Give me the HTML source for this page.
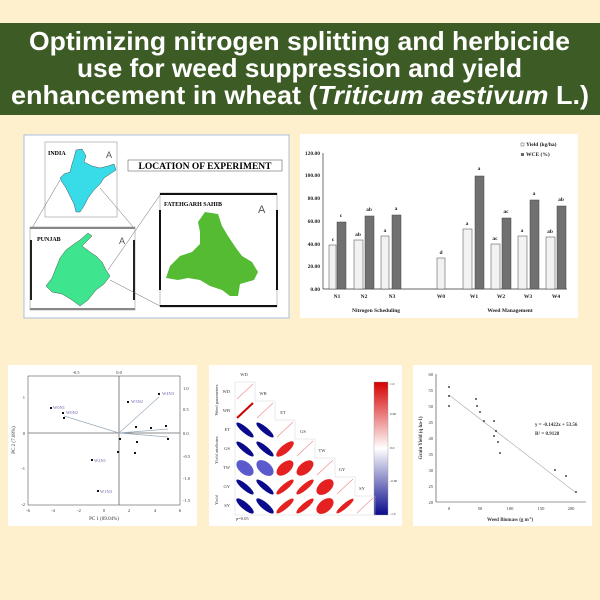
<!DOCTYPE html>
<html><head><meta charset="utf-8"><style>
html,body{margin:0;padding:0;background:#fef0cc;}
svg{display:block}
</style></head><body>
<svg width="600" height="600" viewBox="0 0 600 600" xmlns="http://www.w3.org/2000/svg" font-family="Liberation Serif, serif">
<rect width="600" height="600" fill="#fef0cc"/>
<!-- Title -->
<rect x="0" y="23" width="600" height="92" fill="#3d5b24"/>
<g font-family="Liberation Sans, sans-serif" font-weight="bold" font-size="26" fill="#fff">
<text x="29" y="50" textLength="541" lengthAdjust="spacingAndGlyphs">Optimizing nitrogen splitting and herbicide</text>
<text x="77" y="77" textLength="445" lengthAdjust="spacingAndGlyphs">use for weed suppression and yield</text>
<text x="11" y="104" textLength="578" lengthAdjust="spacingAndGlyphs">enhancement in wheat (<tspan font-style="italic">Triticum aestivum</tspan> L.)</text>
</g>

<!-- Map panel -->
<rect x="24" y="135" width="265" height="183" fill="#fff" stroke="#a8c0dc" stroke-width="1"/>
<rect x="45" y="142" width="72" height="75" fill="#fff" stroke="#999" stroke-width="0.6"/>
<text x="48" y="155" font-size="6" font-weight="bold">INDIA</text>
<text x="106" y="158" font-size="9" fill="#555" font-family="Liberation Sans,sans-serif">A</text>
<polygon points="76,150 82,149 86,156 84,162 92,166 100,168 108,166 114,164 116,170 110,174 104,178 100,184 94,190 88,198 84,206 80,212 76,212 74,204 70,196 66,188 62,182 60,178 64,174 70,172 72,164 74,158" fill="#38dbe8" stroke="#333" stroke-width="0.4"/>
<line x1="60" y1="180" x2="32" y2="228" stroke="#666" stroke-width="0.5"/>
<line x1="100" y1="188" x2="134" y2="228" stroke="#666" stroke-width="0.5"/>
<rect x="30" y="227" width="105" height="83" fill="#fff" stroke="#999" stroke-width="0.6"/>
<rect x="30" y="227" width="105" height="2" fill="#888"/>
<rect x="30" y="308" width="105" height="2" fill="#888"/>
<rect x="30" y="240" width="2" height="60" fill="#222"/>
<rect x="133" y="240" width="2" height="60" fill="#222"/>
<text x="37" y="241" font-size="6" font-weight="bold">PUNJAB</text>
<text x="119" y="244" font-size="9" fill="#555" font-family="Liberation Sans,sans-serif">A</text>
<polygon points="88,233 92,236 86,242 82,246 90,252 96,256 102,262 106,270 110,276 104,284 96,290 88,300 80,306 72,300 62,294 52,292 46,286 52,278 56,268 60,258 66,250 74,244 80,240" fill="#3fe48f" stroke="#333" stroke-width="0.4"/>
<rect x="128" y="160" width="154" height="11" fill="#fff" stroke="#666" stroke-width="0.6"/>
<text x="205" y="169" font-size="9.5" text-anchor="middle" font-weight="bold">LOCATION OF EXPERIMENT</text>
<line x1="108" y1="270" x2="160" y2="195" stroke="#666" stroke-width="0.5"/>
<line x1="110" y1="280" x2="160" y2="306" stroke="#666" stroke-width="0.5"/>
<rect x="160" y="193" width="117" height="114" fill="#fff" stroke="#999" stroke-width="0.6"/>
<rect x="160" y="193" width="117" height="2" fill="#111"/>
<rect x="160" y="305" width="117" height="2" fill="#111"/>
<rect x="159" y="210" width="2" height="80" fill="#111"/>
<rect x="276" y="210" width="2" height="80" fill="#111"/>
<text x="164" y="206" font-size="6" font-weight="bold">FATEHGARH SAHIB</text>
<text x="258" y="213" font-size="11" fill="#555" font-family="Liberation Sans,sans-serif">A</text>
<polygon points="205,212 218,214 222,226 228,236 236,248 242,256 252,262 258,272 254,280 240,284 238,296 230,296 222,290 210,286 200,280 188,278 178,280 166,278 170,266 180,256 192,252 200,244 200,232 198,222" fill="#55bb33"/>

<!-- Bar chart panel -->
<rect x="300" y="134" width="278" height="184" fill="#fff"/>
<g font-size="5.5" font-weight="bold" fill="#222">
<line x1="323" y1="153" x2="323" y2="289" stroke="#333" stroke-width="0.7"/>
<line x1="323" y1="289" x2="567" y2="289" stroke="#333" stroke-width="0.7"/>
<text x="320" y="291" text-anchor="end">0.00</text>
<text x="320" y="268" text-anchor="end">20.00</text>
<text x="320" y="246" text-anchor="end">40.00</text>
<text x="320" y="223" text-anchor="end">60.00</text>
<text x="320" y="200" text-anchor="end">80.00</text>
<text x="320" y="177" text-anchor="end">100.00</text>
<text x="320" y="155" text-anchor="end">120.00</text>
<rect x="521" y="143" width="3" height="3" fill="#fff" stroke="#333" stroke-width="0.4"/><text x="526" y="146">Yield (kg/ha)</text>
<rect x="521" y="153" width="3" height="3" fill="#666"/><text x="526" y="156">WCE (%)</text>
<g stroke="#444" stroke-width="0.5" fill="#f2f2f2">
<rect x="329" y="245" width="7" height="44"/><rect x="354" y="240" width="9" height="49"/><rect x="381" y="236" width="8" height="53"/>
<rect x="437" y="258" width="8" height="31"/><rect x="463" y="229" width="9" height="60"/><rect x="491" y="244" width="9" height="45"/>
<rect x="518" y="236" width="9" height="53"/><rect x="546" y="237" width="9" height="52"/>
</g>
<g fill="#707070" stroke="#444" stroke-width="0.5">
<rect x="337" y="222" width="9" height="67"/><rect x="365" y="216" width="9" height="73"/><rect x="392" y="215" width="9" height="74"/>
<rect x="475" y="176" width="9" height="113"/><rect x="502" y="218" width="9" height="71"/><rect x="530" y="200" width="9" height="89"/><rect x="557" y="206" width="9" height="83"/>
</g>
<g text-anchor="middle">
<text x="333" y="241">c</text><text x="341" y="217">c</text><text x="358" y="236">ab</text><text x="369" y="211">ab</text>
<text x="385" y="232">a</text><text x="396" y="210">a</text><text x="441" y="254">d</text><text x="467" y="225">a</text><text x="479" y="170">a</text>
<text x="495" y="240">ac</text><text x="506" y="213">ac</text><text x="522" y="232">a</text><text x="534" y="195">a</text><text x="550" y="233">ab</text><text x="561" y="201">ab</text>
<text x="337" y="298">N1</text><text x="364" y="298">N2</text><text x="392" y="298">N3</text><text x="441" y="298">W0</text>
<text x="474" y="298">W1</text><text x="501" y="298">W2</text><text x="528" y="298">W3</text><text x="556" y="298">W4</text>
<text x="376" y="312">Nitrogen Scheduling</text><text x="510" y="312">Weed Management</text>
</g>
</g>

<!-- PCA panel -->
<rect x="8" y="365" width="189" height="161" fill="#fff"/>
<g font-size="4.5" fill="#333">
<rect x="28" y="376" width="152" height="129" fill="none" stroke="#555" stroke-width="0.6"/>
<line x1="119" y1="376" x2="119" y2="505" stroke="#666" stroke-width="0.8"/>
<line x1="28" y1="433" x2="180" y2="433" stroke="#666" stroke-width="0.8"/>
<g stroke="#9ab" stroke-width="0.7"><line x1="119" y1="433" x2="64" y2="416"/><line x1="119" y1="433" x2="159" y2="397"/><line x1="119" y1="433" x2="168" y2="429"/><line x1="119" y1="433" x2="168" y2="437"/></g>
<g fill="#111">
<rect x="50" y="407" width="2" height="2"/><rect x="62" y="412" width="2" height="2"/><rect x="63" y="417" width="2" height="2"/><rect x="127" y="401" width="2" height="2"/><rect x="158" y="393" width="2" height="2"/><rect x="135" y="426" width="2" height="2"/><rect x="150" y="427" width="2" height="2"/><rect x="165" y="425" width="2" height="2"/><rect x="167" y="438" width="2" height="2"/><rect x="119" y="438" width="2" height="2"/><rect x="136" y="441" width="2" height="2"/><rect x="117" y="451" width="2" height="2"/><rect x="134" y="452" width="2" height="2"/><rect x="91" y="459" width="2" height="2"/><rect x="97" y="490" width="2" height="2"/>
</g>
<text x="100" y="493" fill="#66a">W1N3</text><text x="94" y="462" fill="#66a">W2N1</text><text x="53" y="409" fill="#66a">W0N1</text><text x="66" y="414" fill="#66a">W0N2</text><text x="131" y="403" fill="#66a">W3N2</text><text x="162" y="395" fill="#66a">W4N3</text>
<text x="76" y="374" text-anchor="middle">-0.5</text><text x="119" y="374" text-anchor="middle">0.0</text>
<text x="28" y="512" text-anchor="middle">-6</text><text x="53" y="512" text-anchor="middle">-4</text><text x="79" y="512" text-anchor="middle">-2</text><text x="104" y="512" text-anchor="middle">0</text><text x="129" y="512" text-anchor="middle">2</text><text x="155" y="512" text-anchor="middle">4</text><text x="180" y="512" text-anchor="middle">6</text>
<text x="25" y="399" text-anchor="end">1</text><text x="25" y="435" text-anchor="end">0</text><text x="25" y="470" text-anchor="end">-1</text><text x="25" y="506" text-anchor="end">-2</text>
<text x="183" y="390">1.0</text><text x="183" y="411">0.5</text><text x="183" y="435">0.0</text><text x="183" y="458">-0.5</text><text x="183" y="480">-1.0</text><text x="183" y="502">-1.5</text>
<text x="104" y="520" text-anchor="middle" font-size="5">PC 1 (89.04%)</text>
<text transform="translate(15,440) rotate(-90)" text-anchor="middle" font-size="5">PC 2 (7.08%)</text>
</g>

<!-- Correlation panel -->
<rect x="209" y="365" width="193" height="161" fill="#fff"/>
<defs>
<linearGradient id="cb" x1="0" y1="0" x2="0" y2="1"><stop offset="0" stop-color="#d40000"/><stop offset="0.5" stop-color="#fff"/><stop offset="1" stop-color="#0a0a8c"/></linearGradient>
</defs>
<rect x="374" y="382" width="14" height="133" fill="url(#cb)" stroke="#999" stroke-width="0.4"/>
<g font-size="4.5" fill="#333">
<text x="244" y="376" text-anchor="middle">WD</text><text x="263" y="395" text-anchor="middle">WB</text><text x="283" y="414" text-anchor="middle">ET</text><text x="303" y="433" text-anchor="middle">GS</text><text x="322" y="452" text-anchor="middle">TW</text><text x="342" y="471" text-anchor="middle">GY</text><text x="362" y="490" text-anchor="middle">SY</text>
<text x="230" y="393" text-anchor="end">WD</text><text x="230" y="412" text-anchor="end">WB</text><text x="230" y="431" text-anchor="end">ET</text><text x="230" y="450" text-anchor="end">GS</text><text x="230" y="469" text-anchor="end">TW</text><text x="230" y="488" text-anchor="end">GY</text><text x="230" y="507" text-anchor="end">SY</text>
<text x="236" y="520">p=0.05</text>
<text transform="translate(218,400) rotate(-90)" text-anchor="middle">Weed parameters</text>
<text transform="translate(218,450) rotate(-90)" text-anchor="middle">Yield attributes</text>
<text transform="translate(218,500) rotate(-90)" text-anchor="middle">Yield</text>
</g>
<g stroke="#ccc" stroke-width="0.4" fill="none">
<path d="M235,382 h20 v19 h20 v19 h20 v19 h20 v19 h20 v19 h20 v19 h20 v19 H235 Z"/>
</g>
<g>
<!-- diagonal -->
<g stroke="#e88" stroke-width="0.6"><line x1="237" y1="399" x2="253" y2="384"/><line x1="257" y1="418" x2="273" y2="403"/><line x1="277" y1="437" x2="293" y2="422"/><line x1="297" y1="456" x2="313" y2="441"/><line x1="317" y1="475" x2="333" y2="460"/><line x1="337" y1="494" x2="353" y2="479"/><line x1="357" y1="513" x2="373" y2="498"/></g>
<line x1="237" y1="418" x2="253" y2="403" stroke="#c00" stroke-width="2"/>
<g fill="#0a0a8c">
<ellipse cx="245" cy="430" rx="11" ry="3" transform="rotate(40 245 430)"/><ellipse cx="265" cy="430" rx="11" ry="3" transform="rotate(40 265 430)"/>
<ellipse cx="245" cy="449" rx="11" ry="3" transform="rotate(40 245 449)"/><ellipse cx="265" cy="449" rx="11" ry="3" transform="rotate(40 265 449)"/>
<ellipse cx="245" cy="487" rx="11" ry="3" transform="rotate(40 245 487)"/><ellipse cx="265" cy="487" rx="11" ry="3" transform="rotate(40 265 487)"/>
<ellipse cx="245" cy="506" rx="11" ry="3.5" transform="rotate(40 245 506)"/><ellipse cx="265" cy="506" rx="11" ry="3.5" transform="rotate(40 265 506)"/>
</g>
<g fill="#5a5acc"><ellipse cx="245" cy="468" rx="10" ry="6" transform="rotate(40 245 468)"/><ellipse cx="265" cy="468" rx="10" ry="6" transform="rotate(40 265 468)"/></g>
<g fill="#e52020">
<ellipse cx="285" cy="449" rx="11" ry="4" transform="rotate(-40 285 449)"/>
<ellipse cx="285" cy="468" rx="10" ry="5.5" transform="rotate(-40 285 468)"/><ellipse cx="305" cy="468" rx="10" ry="5.5" transform="rotate(-40 305 468)"/>
<ellipse cx="285" cy="487" rx="11" ry="3" transform="rotate(-40 285 487)"/><ellipse cx="305" cy="487" rx="11" ry="3" transform="rotate(-40 305 487)"/><ellipse cx="325" cy="487" rx="10" ry="6" transform="rotate(-40 325 487)"/>
<ellipse cx="285" cy="506" rx="11" ry="3" transform="rotate(-40 285 506)"/><ellipse cx="305" cy="506" rx="11" ry="3" transform="rotate(-40 305 506)"/><ellipse cx="325" cy="506" rx="10" ry="6" transform="rotate(-40 325 506)"/><ellipse cx="345" cy="506" rx="11" ry="2.5" transform="rotate(-40 345 506)"/>
</g>
</g>
<g font-size="3.5" fill="#333"><text x="390" y="385">1.0</text><text x="390" y="415">0.60</text><text x="390" y="449">0.0</text><text x="390" y="482">-0.60</text><text x="390" y="515">-1.0</text></g>

<!-- Scatter panel -->
<rect x="413" y="365" width="179" height="161" fill="#fff"/>
<g font-size="4.5" fill="#333">
<line x1="436" y1="374" x2="436" y2="502" stroke="#333" stroke-width="0.6"/>
<line x1="436" y1="502" x2="586" y2="502" stroke="#333" stroke-width="0.6"/>
<text x="433" y="376" text-anchor="end">60</text><text x="433" y="392" text-anchor="end">55</text><text x="433" y="408" text-anchor="end">50</text><text x="433" y="424" text-anchor="end">45</text><text x="433" y="440" text-anchor="end">40</text><text x="433" y="456" text-anchor="end">35</text><text x="433" y="472" text-anchor="end">30</text><text x="433" y="488" text-anchor="end">25</text><text x="433" y="504" text-anchor="end">20</text>
<text x="449" y="510" text-anchor="middle">0</text><text x="480" y="510" text-anchor="middle">50</text><text x="510" y="510" text-anchor="middle">100</text><text x="541" y="510" text-anchor="middle">150</text><text x="571" y="510" text-anchor="middle">200</text>
<text x="510" y="521" text-anchor="middle" font-weight="bold" font-size="5">Weed Biomass (g m<tspan dy="-2" font-size="3">-2</tspan><tspan dy="2">)</tspan></text>
<text transform="translate(422,438) rotate(-90)" text-anchor="middle" font-weight="bold" font-size="5">Grain Yield (q ha-1)</text>
<line x1="449" y1="395" x2="575" y2="492" stroke="#aaa" stroke-width="0.6"/>
<g fill="#111"><circle cx="449" cy="387" r="0.9"/><circle cx="449" cy="396" r="0.9"/><circle cx="449" cy="406" r="0.9"/><circle cx="476" cy="399" r="0.9"/><circle cx="477" cy="406" r="0.9"/><circle cx="480" cy="412" r="0.9"/><circle cx="484" cy="421" r="0.9"/><circle cx="494" cy="421" r="0.9"/><circle cx="496" cy="431" r="0.9"/><circle cx="494" cy="436" r="0.9"/><circle cx="498" cy="442" r="0.9"/><circle cx="500" cy="453" r="0.9"/><circle cx="555" cy="470" r="0.9"/><circle cx="566" cy="476" r="0.9"/><circle cx="576" cy="492" r="0.9"/></g>
<text x="535" y="426" font-weight="bold" font-size="5">y = -0.1422x + 53.56</text>
<text x="535" y="435" font-weight="bold" font-size="5">R² = 0.9128</text>
</g>
</svg>
</body></html>
